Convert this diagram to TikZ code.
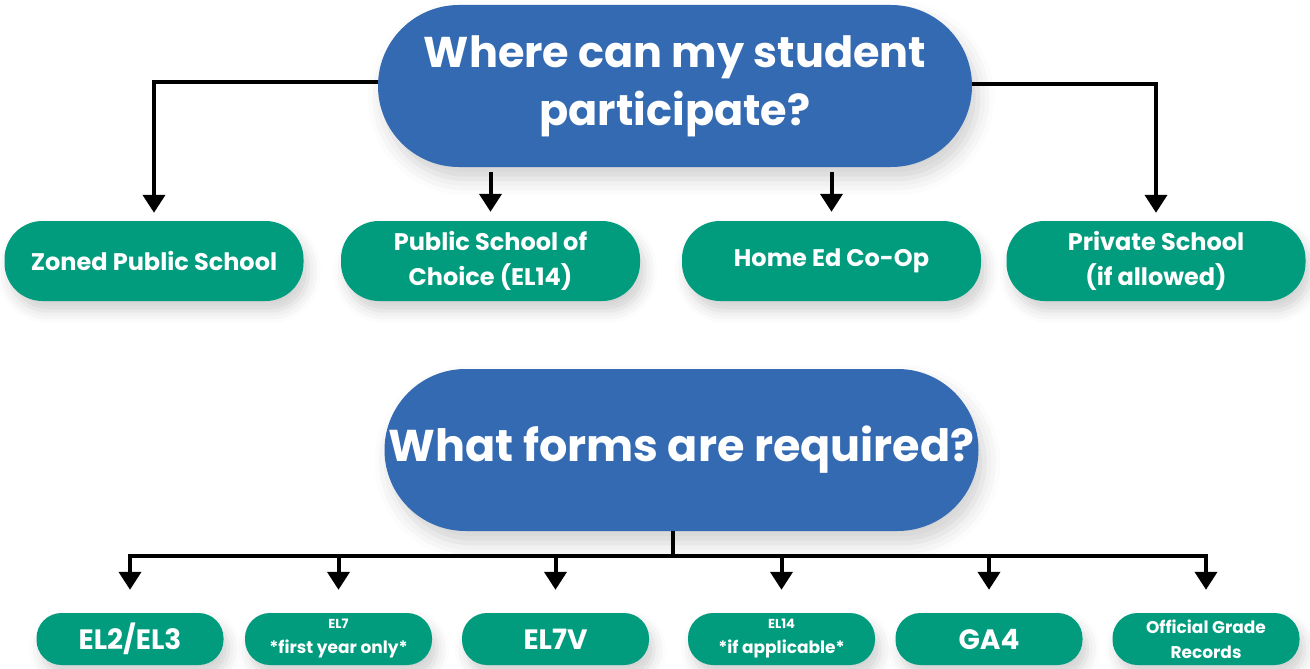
\documentclass[tikz,border=0pt]{standalone}
\usepackage{fontspec}
\setmainfont{Poppins}
\usetikzlibrary{positioning,arrows.meta,shadows.blur}
\definecolor{qblue}{RGB}{51,106,178}
\definecolor{qgreen}{RGB}{0,156,125}

\begin{document}
\begin{tikzpicture}[x=1pt,y=-1pt,
    question/.style={fill=qblue,text=white,align=center,
      font=\bfseries\fontsize{43}{58}\selectfont,
      minimum width=594pt,minimum height=162pt,rounded corners=81pt,
      blur shadow={shadow xshift=6pt,shadow yshift=-12pt,shadow blur radius=16pt,shadow opacity=18}},
    place/.style={fill=qgreen,text=white,align=center,
      font=\bfseries\fontsize{24}{35}\selectfont,
      minimum width=299pt,minimum height=80pt,rounded corners=38pt,
      blur shadow={shadow xshift=5pt,shadow yshift=-10pt,shadow blur radius=12pt,shadow opacity=18}},
    form/.style={place,minimum width=187pt,minimum height=52pt,rounded corners=25pt},
    big/.style={font=\bfseries\fontsize{28}{30}\selectfont},
    small/.style={font=\bfseries\fontsize{17}{25}\selectfont},
    link/.style={line width=4pt,-{Triangle[width=22pt,length=18pt]}}]
  \useasboundingbox (0,0) rectangle (1310,669);

  % question 1
  \node[question] (where) at (675,86) {Where can my student\\participate?};
  \node[place] (zoned) at (154,261) {Zoned Public School};
  \node[place] (choice) at (490.5,261) {Public School of\\Choice (EL14)};
  \node[place] (homeed) at (831.5,261) {Home Ed Co-Op};
  \node[place] (private) at (1156,261) {Private School\\(if allowed)};

  \draw[link,shorten >=8pt] ([yshift=4pt]where.west) -| (zoned.north);
  \draw[link,shorten >=8pt] ([yshift=2pt]where.east) -| (private.north);
  \draw[link,shorten <=5pt,shorten >=9pt] (where.south -| choice.north) -- (choice.north);
  \draw[link,shorten <=5pt,shorten >=9pt] (where.south -| homeed.north) -- (homeed.north);

  % question 2
  \node[question,font=\bfseries\fontsize{44.5}{58}\selectfont] (forms) at (681.5,450) {What forms are required?};
  \node[form,big] (el2) at (130,639) {EL2/EL3};
  \node[form,small] (el7) at (338.5,639) {{\fontsize{13}{20}\selectfont EL7}\\*first year only*};
  \node[form,big] (el7v) at (555.5,639) {EL7V};
  \node[form,small] (el14) at (781.5,639) {{\fontsize{13}{20}\selectfont EL14}\\*if applicable*};
  \node[form,big] (ga4) at (989,639) {GA4};
  \node[form,small] (grades) at (1206,639) {Official Grade\\Records};

  \draw[line width=4pt] ([xshift=-9pt]forms.south) -- ++(0,25) coordinate (hub);
  \foreach \f in {el2,el7,el7v,el14,ga4,grades}
    \draw[link,shorten >=23pt] (hub) -| (\f.north);
\end{tikzpicture}
\end{document}
